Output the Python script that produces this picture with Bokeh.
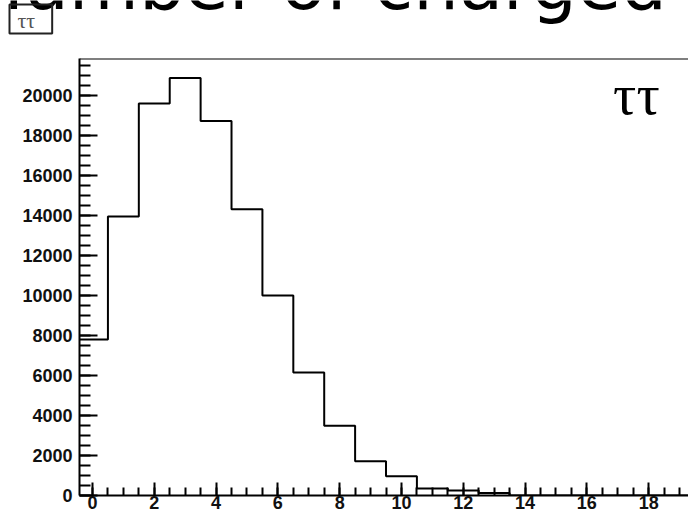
from bokeh.plotting import figure
from bokeh.layouts import column
from bokeh.models import Range1d, SingleIntervalTicker, Label, Span
from bokeh.embed import file_html
from bokeh.resources import INLINE

# ---- data ----
bin_edges = [-0.5, 0.5, 1.5, 2.5, 3.5, 4.5, 5.5, 6.5, 7.5, 8.5, 9.5,
             10.5, 11.5, 12.5, 13.5, 14.5, 15.5, 16.5, 17.5, 18.5, 19.5]
counts = [7800, 13950, 19600, 20880, 18720, 14310, 10000, 6150, 3490, 1710,
          960, 350, 250, 130, 0, 0, 0, 0, 0, 0]
title_text = "number of charged"
hist_label = "ττ"
pave_label = "ττ"

# step outline of the histogram, built from the data arrays
xs, ys = [bin_edges[0]], [0]
for i, c in enumerate(counts):
    xs += [bin_edges[i], bin_edges[i + 1]]
    ys += [c, c]
xs.append(bin_edges[-1])
ys.append(0)

# ---- header strip (cut-off title and the small pave box) ----
q = figure(width=688, height=56, output_backend="svg", toolbar_location=None,
           x_range=Range1d(0, 688), y_range=Range1d(56, 0),
           x_axis_type=None, y_axis_type=None,
           min_border_left=0, min_border_right=0, min_border_top=0, min_border_bottom=0)
q.frame_align = False
q.outline_line_color = None
q.grid.visible = False
q.background_fill_color = "white"
q.border_fill_color = "white"

q.add_layout(Label(x=-23, y=-17, text=title_text,
                   text_font="DejaVu Sans", text_font_size="72px",
                   text_baseline="alphabetic", text_align="left", text_color="black"))

q.add_layout(Label(x=9, y=33, text=pave_label,
                   text_font="Liberation Serif", text_font_size="22px",
                   text_baseline="bottom", text_align="left", text_color="#555555",
                   border_line_color="#222222", border_line_width=2,
                   padding=dict(left=8, right=17, top=3, bottom=1)))

# ---- main histogram ----
p = figure(width=688, height=459, output_backend="svg", toolbar_location=None,
           x_range=Range1d(-0.42, 19.29), y_range=Range1d(0, 21850),
           min_border_left=79, min_border_right=0, min_border_top=2,
           min_border_bottom=20)
p.frame_align = False
p.outline_line_color = None
p.grid.visible = False
p.background_fill_color = "white"
p.border_fill_color = "white"

p.line(xs, ys, line_color="black", line_width=2)

for ax in (p.xaxis[0], p.yaxis[0]):
    ax.axis_line_width = 2
    ax.axis_line_color = "black"
    ax.major_tick_out = 0
    ax.minor_tick_out = 0
    ax.major_tick_line_width = 2
    ax.minor_tick_line_width = 2
    ax.major_tick_line_color = "black"
    ax.minor_tick_line_color = "black"
    ax.major_label_text_font = "Liberation Sans"
    ax.major_label_text_font_style = "bold"
    ax.major_label_text_font_size = "18px"
    ax.major_label_text_color = "#111111"

p.xaxis[0].ticker = SingleIntervalTicker(interval=2, num_minor_ticks=4)
p.xaxis[0].major_tick_in = 13
p.xaxis[0].minor_tick_in = 8
p.xaxis[0].major_label_standoff = 0

p.yaxis[0].ticker = SingleIntervalTicker(interval=2000, num_minor_ticks=4)
p.yaxis[0].major_tick_in = 18
p.yaxis[0].minor_tick_in = 11
p.yaxis[0].major_label_standoff = 7

p.add_layout(Span(location=21850, dimension="width", line_color="black", line_width=2))

p.add_layout(Label(x=16.85, y=20050, text=hist_label,
                   text_font="Liberation Serif", text_font_size="58px",
                   text_baseline="alphabetic", text_align="left", text_color="black"))

layout = column(q, p, spacing=0)
open("out.html", "w").write(file_html(layout, INLINE))
